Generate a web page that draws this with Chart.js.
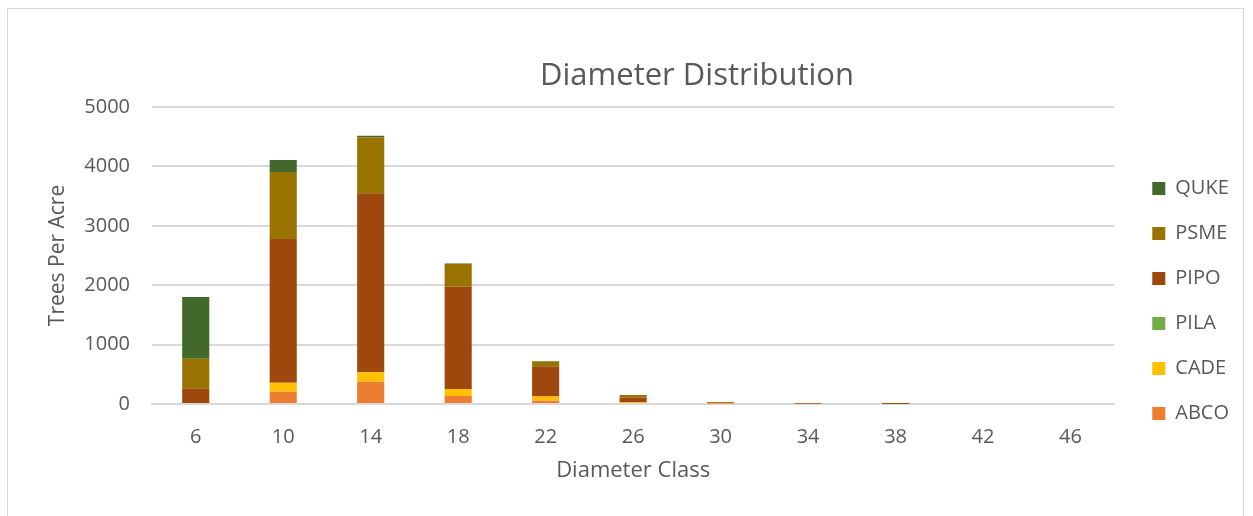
<!DOCTYPE html>
<html>
<head>
<meta charset="utf-8">
<script src="https://cdn.jsdelivr.net/npm/chart.js@4/dist/chart.umd.min.js"></script>
<style>
  html, body { margin: 0; padding: 0; background: #fff; }
  #wrap { position: relative; width: 1253px; height: 516px; }
  #frame { position: absolute; left: 7px; top: 8px; width: 1237px; height: 520px; border: 1px solid #d9d9d9; box-sizing: border-box; }
  canvas { position: absolute; left: 0; top: 0; }
</style>
</head>
<body>
<div id="wrap">
  <div id="frame"></div>
  <canvas id="diam" width="1253" height="516"></canvas>
</div>
<script>
const diameterClasses = ['6', '10', '14', '18', '22', '26', '30', '34', '38', '42', '46'];

// trees per acre by species, bottom of stack first
const abco = [0, 207, 375, 135, 55, 15, 10, 0, 0, 0, 0];
const cade = [0, 152, 159, 118, 70, 15, 5, 0, 0, 0, 0];
const pila = [0, 0, 0, 0, 0, 0, 0, 0, 0, 0, 0];
const pipo = [258, 2419, 3013, 1722, 510, 75, 15, 3, 2, 0, 0];
const psme = [505, 1128, 943, 382, 80, 45, 5, 2, 2, 0, 0];
const quke = [1040, 200, 25, 10, 10, 0, 0, 0, 0, 0, 0];

const yTicks = [0, 1000, 2000, 3000, 4000, 5000];

const txt = '#595959';
const fontFam = '"Open Sans", sans-serif';

// nudge title + legend to where they sit in the original
const nudge = {
  id: 'nudge',
  afterLayout(chart) {
    const t = chart.titleBlock;
    t.left += 84; t.right += 84;
    const lg = chart.legend;
    lg.left += 13; lg.right += 13;
    lg.top += 43; lg.bottom += 43;
  }
};

const ctx = document.getElementById('diam');
const chart = new Chart(ctx, {
  type: 'bar',
  data: {
    labels: diameterClasses,
    datasets: [
      { label: 'ABCO', data: abco, backgroundColor: '#ED7D31' },
      { label: 'CADE', data: cade, backgroundColor: '#FFC000' },
      { label: 'PILA', data: pila, backgroundColor: '#70AD47' },
      { label: 'PIPO', data: pipo, backgroundColor: '#9E480E' },
      { label: 'PSME', data: psme, backgroundColor: '#997300' },
      { label: 'QUKE', data: quke, backgroundColor: '#43682B' }
    ]
  },
  plugins: [nudge],
  options: {
    responsive: false,
    animation: false,
    layout: { padding: { left: 0, right: 27, top: 0, bottom: 0 } },
    datasets: {
      bar: { barPercentage: 1, categoryPercentage: 0.31, borderWidth: 0 }
    },
    scales: {
      x: {
        stacked: true,
        grid: { display: false, drawTicks: false },
        border: { color: '#d9d9d9', width: 2 },
        ticks: { color: txt, font: { family: fontFam, size: 20 }, padding: 21 },
        title: { display: true, text: 'Diameter Class', color: txt, font: { family: fontFam, size: 22 }, padding: { top: 0, bottom: 32 } },
        afterFit: (s) => { s.height = 112; }
      },
      y: {
        stacked: true,
        min: 0,
        max: 5000,
        afterBuildTicks: (s) => { s.ticks = yTicks.map(v => ({ value: v })); },
        grid: { color: '#d9d9d9', lineWidth: 2, drawTicks: false },
        border: { display: false },
        ticks: { color: txt, font: { family: fontFam, size: 20 }, padding: 22, callback: (v) => String(v) },
        title: { display: true, text: 'Trees Per Acre', color: txt, font: { family: fontFam, size: 21 }, padding: { top: 45, bottom: 0 } },
        afterFit: (s) => { s.width = 152; }
      }
    },
    plugins: {
      title: {
        display: true,
        text: 'Diameter Distribution',
        color: txt,
        font: { family: fontFam, size: 31, weight: 'normal' },
        padding: { top: 57.2, bottom: 12.6 }
      },
      legend: {
        position: 'right',
        reverse: true,
        labels: {
          color: txt,
          font: { family: fontFam, size: 20 },
          boxWidth: 13,
          boxHeight: 13,
          padding: 25
        }
      },
      tooltip: { enabled: false }
    }
  }
});
</script>
</body>
</html>
